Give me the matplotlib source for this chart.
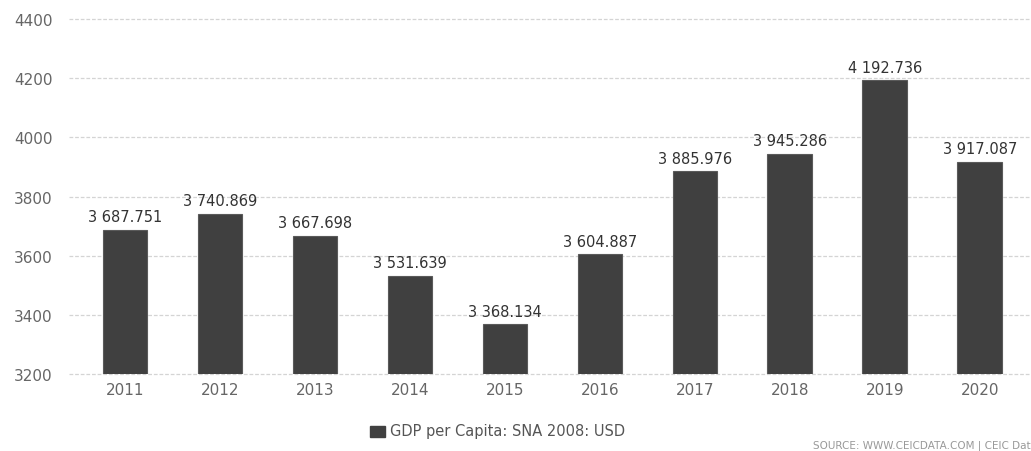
import matplotlib
matplotlib.use("Agg")
import matplotlib.pyplot as plt
from matplotlib.patches import Rectangle

years = ["2011", "2012", "2013", "2014", "2015", "2016", "2017", "2018", "2019", "2020"]
gdp_per_capita = [3687.751, 3740.869, 3667.698, 3531.639, 3368.134,
                  3604.887, 3885.976, 3945.286, 4192.736, 3917.087]
y_ticks = [3200, 3400, 3600, 3800, 4000, 4200, 4400]
series_name = "GDP per Capita: SNA 2008: USD"
source_text = "SOURCE: WWW.CEICDATA.COM | CEIC Dat"

bar_color = "#404040"
tick_color = "#666666"

plt.rcParams["font.family"] = ["DejaVu Sans"]

fig = plt.figure(figsize=(10.31, 4.52), dpi=100)
ax = fig.add_axes([0.067, 0.170, 0.933, 0.786])

x = list(range(len(years)))
ax.bar(x, [v - y_ticks[0] for v in gdp_per_capita], bottom=y_ticks[0],
       width=0.47, color=bar_color, edgecolor="#5a5a5a", linewidth=0.8, zorder=3)


def fmt(v):
    s = f"{v:,.3f}"
    return s.replace(",", " ")


for xi, v in zip(x, gdp_per_capita):
    ax.annotate(fmt(v), (xi, v), xytext=(0, 4), textcoords="offset points",
                ha="center", va="bottom", fontsize=10.5, color="#333333", zorder=4)

ax.set_xlim(-0.59, 9.54)
ax.set_ylim(3200, 4400)
ax.set_yticks(y_ticks)
ax.set_xticks(x)
ax.set_xticklabels(years)
ax.tick_params(axis="both", length=0, labelsize=11, colors=tick_color)
ax.tick_params(axis="y", pad=12)
ax.tick_params(axis="x", pad=6)
ax.grid(axis="y", color="#d4d4d4", linestyle=(0, (3, 1.5)), linewidth=0.9, zorder=0)
for gl in ax.get_ygridlines():
    gl.set_clip_on(False)
for s in ax.spines.values():
    s.set_visible(False)

# legend row
fig.patches.append(Rectangle((370 / 1031, 1 - 438 / 452), 15 / 1031, 11 / 452,
                             transform=fig.transFigure, color=bar_color))
fig.text(390 / 1031, 1 - 432 / 452, series_name, fontsize=10.5, color="#555555",
         ha="left", va="center")
fig.text(1.0, 1 - 446 / 452, source_text, fontsize=7.5, color="#999999",
         ha="right", va="center")

fig.savefig("out.png", dpi=100, facecolor="white")
